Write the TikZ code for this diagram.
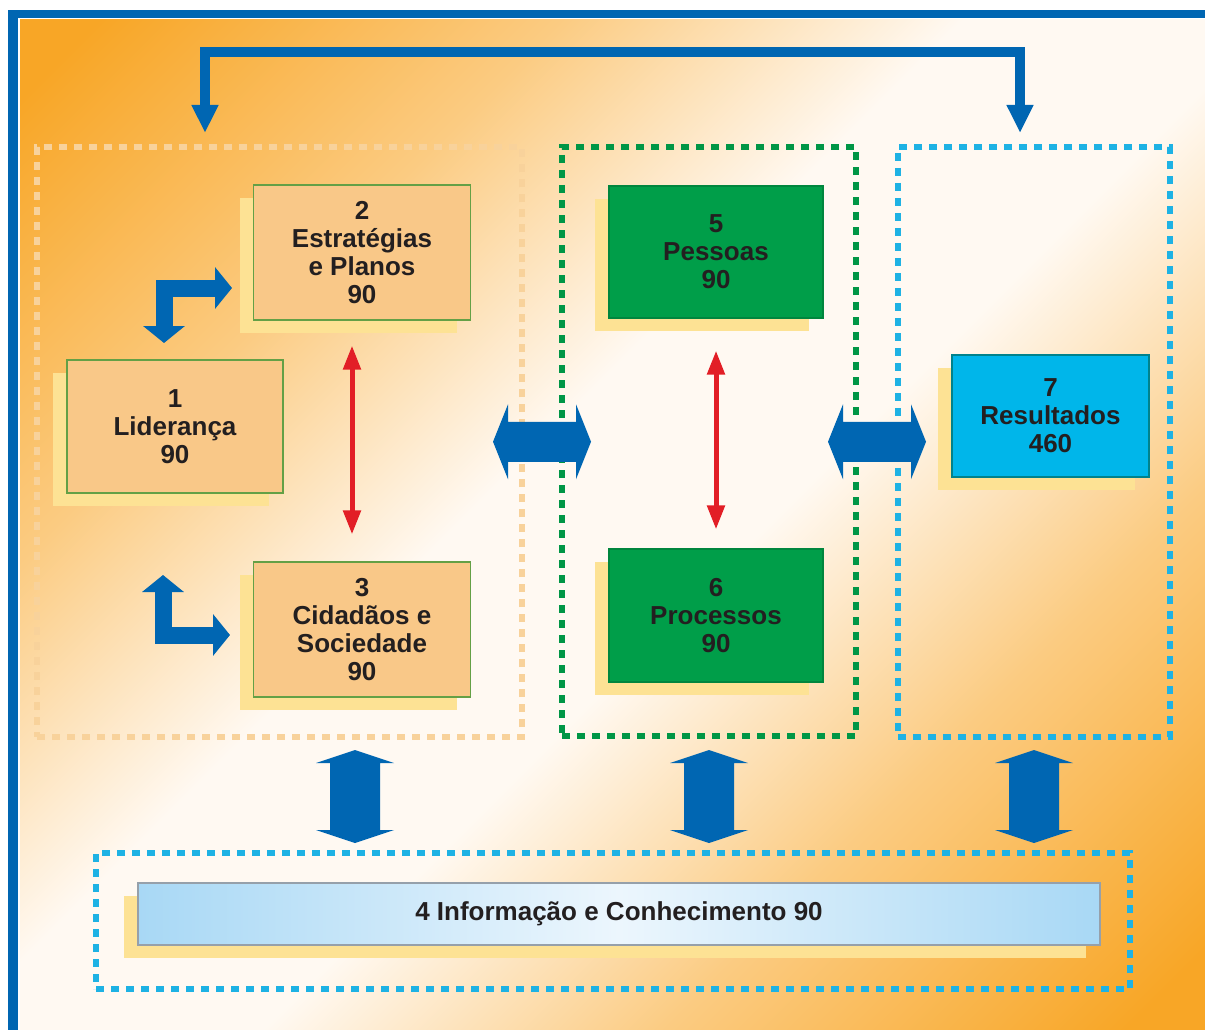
\documentclass[tikz,border=0pt]{standalone}
\usepackage{fontspec}
\setmainfont{Liberation Sans}
\usetikzlibrary{arrows.meta,calc}
\definecolor{frameblue}{RGB}{0,102,178}
\definecolor{bgorange}{RGB}{248,166,38}
\definecolor{bgpale}{RGB}{255,249,242}
\colorlet{bgmid}{bgorange!55!bgpale}
\definecolor{boxorange}{RGB}{249,200,136}
\definecolor{boxgreen}{RGB}{0,158,73}
\definecolor{boxcyan}{RGB}{0,182,234}
\definecolor{barblue}{RGB}{168,216,245}
\definecolor{barpale}{RGB}{236,246,253}
\definecolor{bargray}{RGB}{150,160,170}
\definecolor{shadowyellow}{RGB}{253,226,148}
\definecolor{edgegreen}{RGB}{100,160,70}
\definecolor{edgeteal}{RGB}{0,130,140}
\definecolor{dotpeach}{RGB}{248,210,155}
\definecolor{dotgreen}{RGB}{0,150,70}
\definecolor{dotcyan}{RGB}{30,178,228}
\definecolor{arrowred}{RGB}{226,30,38}
\definecolor{textdark}{RGB}{35,31,32}
\pgfdeclareverticalshading{bgshade}{100bp}{color(0bp)=(bgorange); color(17bp)=(bgorange); color(32bp)=(bgmid); color(45bp)=(bgpale); color(55bp)=(bgpale); color(68bp)=(bgmid); color(83bp)=(bgorange); color(100bp)=(bgorange)}
\newcommand{\boxfont}{\fontsize{26}{28}\selectfont\bfseries}

\begin{document}
\begin{tikzpicture}
      [x = 1pt, y = -1pt,
      box/.style = {
         draw = edgegreen,
         line width = 1.2pt,
         fill = boxorange,
         text = textdark,
         font = \boxfont,
         align = center,
         inner sep = 0pt,
         preaction = {fill = shadowyellow, draw = none,
            transform canvas = {shift = {(-14pt, -13pt)}}}
      },
      greenbox/.style = {box, fill = boxgreen, draw = boxgreen!85!black},
      cyanbox/.style = {box, fill = boxcyan, draw = edgeteal},
      bar/.style = {box, draw = bargray, left color = barblue,
         right color = barblue, middle color = barpale},
      group/.style = {
         line width = 6.5pt,
         dash pattern = on 8pt off 7pt,
         inner sep = 0pt
      },
      redarrow/.style = {
         draw = arrowred,
         line width = 5pt,
         arrows = {Triangle[width=17pt,length=24pt]-Triangle[width=17pt,length=24pt]}
      },
      toparrow/.style = {
         draw = frameblue,
         line width = 10pt,
         arrows = {Triangle[width=25pt,length=28pt]-Triangle[width=25pt,length=28pt]}
      },
      bentarrow/.style = {
         draw = frameblue,
         line width = 17pt,
         arrows = {Triangle[width=41pt,length=17pt]-Triangle[width=41pt,length=17pt]}
      }]

      \useasboundingbox (0,0) rectangle (1205,1030);
      \fill[white] (0,0) rectangle (1205,1030);
      \shade[shading = bgshade, shading angle = 45] (20,20) rectangle (1205,1030);
      \fill[frameblue] (8,10) rectangle (1205,18);
      \fill[frameblue] (8,10) rectangle (18,1030);

      \node[group, draw = dotpeach, minimum width = 485pt, minimum height = 590pt] (g1) at (279.5,442) {};
      \node[group, draw = dotgreen, minimum width = 294pt, minimum height = 589pt] (g2) at (709,441.5) {};
      \node[group, draw = dotcyan, minimum width = 272pt, minimum height = 590pt] (g3) at (1034,442) {};
      \node[group, draw = dotcyan, minimum width = 1034pt, minimum height = 136pt] (g4) at (613,921) {};

      \node[box, minimum width = 217pt, minimum height = 135pt] (est) at (362,252.5) {2\\Estratégias\\e Planos\\90};
      \node[box, minimum width = 216pt, minimum height = 133pt] (lid) at (175,426.5) {1\\Liderança\\90};
      \node[box, minimum width = 217pt, minimum height = 135pt] (cid) at (362,629.5) {3\\Cidadãos e\\Sociedade\\90};
      \node[greenbox, minimum width = 214pt, minimum height = 132pt] (pes) at (716,252) {5\\Pessoas\\90};
      \node[greenbox, minimum width = 214pt, minimum height = 133pt] (pro) at (716,615.5) {6\\Processos\\90};
      \node[cyanbox, minimum width = 197pt, minimum height = 122pt] (res) at (1050.5,416) {7\\Resultados\\460};
      \node[bar, minimum width = 962pt, minimum height = 62pt] (inf) at (619,914) {4 Informação e Conhecimento 90};

      \draw[redarrow, shorten <= 25pt, shorten >= 27pt] ([xshift=-10pt]est.south) -- ([xshift=-10pt]cid.north);
      \draw[redarrow, shorten <= 32pt, shorten >= 19pt] (pes.south) -- (pro.north);

      \coordinate (lidtop) at (164,343);
      \coordinate (estleft) at (232,288);
      \coordinate (lidbot) at (163,575);
      \coordinate (cidleft) at (230,635);
      \draw[bentarrow] (lidtop) |- (estleft);
      \draw[bentarrow] (lidbot) |- (cidleft);

      \coordinate (grouptopL) at (205,133);
      \coordinate (grouptopR) at (1020,133);
      \draw[toparrow] (grouptopL) -- (205,52) -| (grouptopR);

      \foreach \a/\b in {g1/g2, g2/g3}
         \fill[frameblue, shift = {($(\a.east)!0.5!(\b.west)$)}]
            (-49,0) -- (-34,-37.5) -- (-34,-20) -- (34,-20) -- (34,-37.5)
            -- (49,0) -- (34,37.5) -- (34,20) -- (-34,20) -- (-34,37.5) -- cycle;
      \foreach \cx in {355, 709, 1034}
         \fill[frameblue, shift = {(\cx,796.5)}]
            (0,-46.5) -- (39,-33.5) -- (25,-33.5) -- (25,33.5) -- (39,33.5)
            -- (0,46.5) -- (-39,33.5) -- (-25,33.5) -- (-25,-33.5) -- (-39,-33.5) -- cycle;

   \end{tikzpicture}
\end{document}
